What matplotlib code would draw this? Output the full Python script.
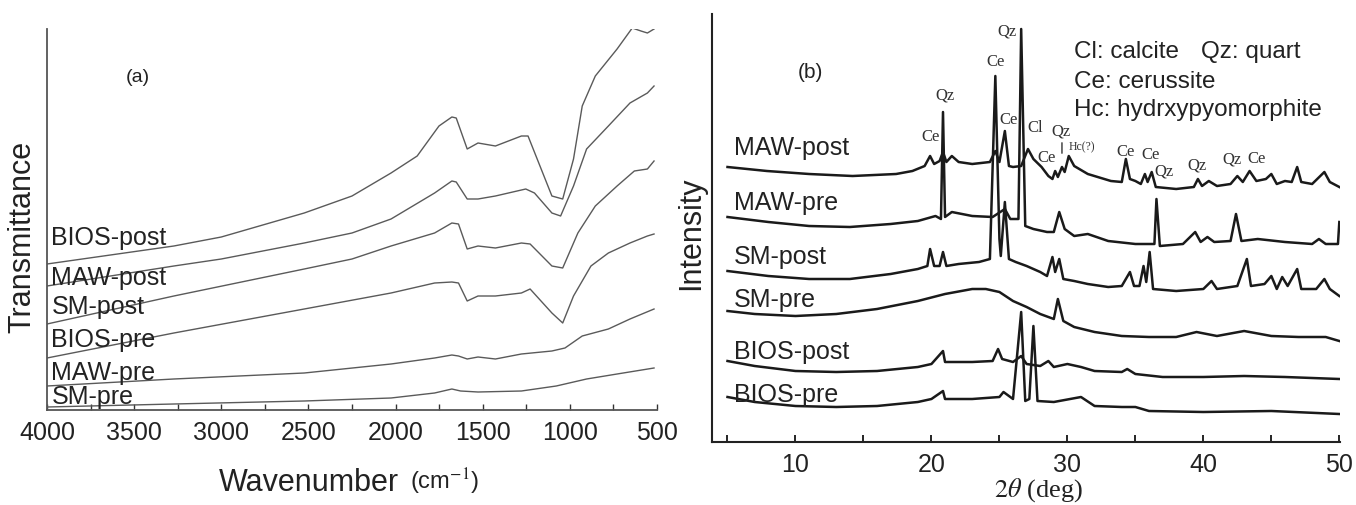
import matplotlib
matplotlib.use('Agg')
import matplotlib.pyplot as plt
from matplotlib.ticker import MultipleLocator

plt.rcParams['font.family'] = ['Liberation Sans', 'DejaVu Sans']
plt.rcParams['mathtext.fontset'] = 'stix'

# ---- (a) FTIR, wavenumber (cm-1) vs offset transmittance (arb. units) ----
bios_post_wn = [4000, 3272, 3000, 2524, 2250, 2026, 1876, 1751, 1677, 1652, 1589, 1527, 1427,
                1278, 1240, 1103, 1041, 979, 929, 854, 729, 642, 592, 555, 517]
bios_post_t = [146, 164, 173, 197, 214, 237, 254, 284, 293, 292, 261, 267, 264,
               274, 274, 214, 211, 251, 304, 334, 361, 382, 379, 377, 381]

maw_post_wn = [4000, 3272, 3000, 2524, 2250, 2026, 1776, 1677, 1652, 1589, 1527, 1427,
               1253, 1203, 1103, 1053, 979, 904, 779, 655, 555, 517]
maw_post_t = [124, 144, 151, 167, 177, 191, 217, 229, 228, 211, 211, 214,
              221, 217, 197, 194, 224, 261, 284, 307, 317, 324]

sm_post_wn = [4000, 3272, 2524, 2250, 2026, 1776, 1677, 1639, 1589, 1527, 1427,
              1278, 1228, 1103, 1041, 954, 854, 729, 630, 555, 517]
sm_post_t = [86, 114, 141, 151, 164, 177, 187, 186, 161, 164, 162,
             167, 166, 144, 142, 177, 204, 224, 239, 241, 249]

bios_pre_wn = [4000, 3272, 2524, 2026, 1776, 1677, 1639, 1589, 1527, 1427,
               1278, 1228, 1103, 1041, 979, 879, 779, 655, 555, 517]
bios_pre_t = [52, 77, 101, 117, 127, 128, 127, 109, 114, 114,
              117, 121, 97, 87, 114, 144, 157, 167, 174, 176]

maw_pre_wn = [4000, 3272, 2524, 2026, 1776, 1677, 1639, 1589, 1527, 1427,
              1278, 1103, 1028, 929, 779, 655, 517]
maw_pre_t = [24, 31, 37, 46, 52, 55, 54, 51, 53, 51,
             56, 59, 62, 74, 81, 91, 101]

sm_pre_wn = [4000, 3272, 2524, 2026, 1776, 1677, 1627, 1527, 1278, 1078, 904, 729, 517]
sm_pre_t = [3, 6, 9, 12, 17, 21, 19, 18, 19, 24, 31, 36, 42]

ftir_labels = ['BIOS-post', 'MAW-post', 'SM-post', 'BIOS-pre', 'MAW-pre', 'SM-pre']
ftir_label_y = [173, 133, 104, 71, 38, 14]

# ---- (b) XRD, 2theta (deg) vs offset intensity (arb. units) ----
maw_post_2t = [5.0, 7.9, 11.0, 14.2, 17.4, 18.6, 19.5, 19.9, 20.2, 20.6, 20.85, 21.1, 21.5, 22.0,
               23.0, 24.3, 24.7, 25.0, 25.4, 25.7, 26.0, 26.6, 27.1, 27.5, 28.1, 28.6, 28.9,
               29.1, 29.3, 29.6, 29.8, 30.1, 30.5, 31.5, 33.2, 34.0, 34.3, 34.6, 35.0, 35.4,
               35.7, 35.9, 36.2, 36.5, 38.0, 39.3, 39.6, 39.9, 40.4, 41.0, 42.0, 42.5, 42.9,
               43.4, 43.9, 44.6, 45.0, 45.4, 46.0, 46.5, 46.9, 47.2, 48.0, 48.9, 49.3, 50.0]
maw_post_i = [275, 271, 268, 266, 268, 271, 276, 286, 278, 281, 290, 280, 286, 280,
              278, 280, 291, 280, 311, 276, 275, 276, 293, 283, 275, 266, 263,
              271, 265, 275, 270, 286, 276, 268, 261, 260, 283, 263, 261, 258,
              268, 260, 270, 255, 253, 255, 263, 256, 261, 256, 258, 266, 260,
              271, 261, 263, 268, 258, 261, 260, 275, 260, 258, 270, 260, 255]

maw_pre_2t = [5.0, 8.0, 11.0, 14.0, 17.0, 19.0, 20.3, 20.7, 20.85, 21.0, 21.5, 23.0, 24.5,
              25.4, 25.8, 26.4, 26.6, 26.9, 27.5, 28.5, 29.0, 29.4, 29.8, 30.5, 31.5, 33.0,
              35.0, 36.4, 36.55, 36.8, 38.5, 39.4, 39.8, 40.3, 40.8, 42.0, 42.4, 42.8, 44.0,
              46.0, 48.0, 48.5, 49.0, 49.9, 50.0]
maw_pre_i = [225, 220, 216, 215, 218, 221, 226, 223, 330, 225, 230, 226, 225,
             233, 223, 223, 413, 216, 213, 210, 210, 230, 213, 206, 208, 201,
             198, 198, 243, 196, 198, 210, 200, 205, 200, 201, 228, 201, 203,
             200, 198, 203, 198, 198, 220]

sm_post_2t = [5.0, 8.0, 11.0, 14.0, 17.0, 19.0, 19.7, 19.9, 20.2, 20.6, 20.85, 21.1, 22.0,
              23.5, 24.3, 24.7, 25.0, 25.1, 25.4, 25.7, 26.2, 27.0, 27.5, 28.0, 28.5, 28.9,
              29.1, 29.4, 29.7, 30.5, 31.5, 33.0, 34.0, 34.6, 34.9, 35.3, 35.6, 35.8, 36.05,
              36.3, 38.0, 40.0, 40.6, 41.0, 42.5, 43.2, 43.5, 44.5, 45.0, 45.4, 45.8, 46.2,
              46.9, 47.2, 48.3, 48.9, 49.3, 50.0]
sm_post_i = [171, 166, 163, 163, 168, 173, 176, 193, 176, 176, 190, 176, 178,
             180, 183, 366, 203, 186, 240, 183, 180, 176, 173, 170, 166, 185,
             170, 183, 163, 161, 158, 155, 156, 170, 156, 156, 176, 160, 190,
             153, 151, 153, 161, 153, 156, 183, 156, 158, 166, 153, 165, 156,
             173, 153, 153, 163, 153, 146]

sm_pre_2t = [5.0, 7.0, 10.0, 13.0, 16.0, 19.0, 21.0, 23.0, 24.0, 25.0, 26.0, 27.0, 28.0,
             29.0, 29.3, 29.7, 30.5, 32.0, 34.0, 36.0, 38.0, 39.5, 41.0, 43.0, 45.0,
             47.0, 49.0, 50.0]
sm_pre_i = [131, 128, 126, 128, 133, 141, 148, 153, 153, 150, 141, 135, 128,
            123, 143, 121, 115, 110, 106, 105, 105, 110, 106, 111, 106,
            105, 105, 101]

bios_post_2t = [5.0, 7.0, 10.0, 13.0, 16.0, 19.0, 20.0, 20.85, 21.0, 23.0, 24.5, 24.9, 25.2,
                26.0, 26.6, 27.0, 28.0, 28.6, 29.0, 30.0, 31.0, 32.0, 34.0, 34.4, 35.0,
                37.0, 40.0, 43.0, 46.0, 50.0]
bios_post_i = [81, 76, 71, 70, 71, 75, 78, 91, 80, 80, 81, 93, 83,
               80, 86, 78, 76, 81, 75, 78, 75, 71, 70, 73, 68,
               65, 65, 66, 65, 63]

bios_pre_2t = [5.0, 7.0, 10.0, 13.0, 16.0, 19.0, 20.0, 20.85, 21.0, 23.0, 25.0, 25.3, 26.0,
               26.6, 26.9, 27.2, 27.5, 27.8, 29.0, 31.0, 32.0, 34.0, 35.0, 36.0, 40.0,
               45.0, 50.0]
bios_pre_i = [45, 40, 36, 35, 36, 40, 43, 51, 43, 43, 45, 50, 43,
              130, 41, 43, 116, 41, 40, 45, 36, 35, 35, 31, 30,
              31, 28]

xrd_labels = ['MAW-post', 'MAW-pre', 'SM-post', 'SM-pre', 'BIOS-post', 'BIOS-pre']
xrd_label_y = [295, 240, 186, 143, 91, 48]

peak_names = ['Qz', 'Ce', 'Qz', 'Ce', 'Ce', 'Cl', 'Qz', 'Ce', 'Hc(?)', 'Ce', 'Ce', 'Qz', 'Qz', 'Qz', 'Ce']
peak_2t = [25.55, 24.74, 21.0, 19.9, 25.7, 27.6, 29.5, 28.5, 31.1, 34.3, 36.1, 37.1, 39.5, 42.1, 43.9]
peak_y = [412, 381, 348, 306, 323, 315, 311, 285, 296, 291, 288, 271, 278, 284, 284]

fig = plt.figure(figsize=(13.56, 5.06), dpi=100)

# ---------------- panel (a) ----------------
ax1 = fig.add_axes([47 / 1356, 95 / 506, 610 / 1356, 381 / 506])
ftir = [(bios_post_wn, bios_post_t), (maw_post_wn, maw_post_t), (sm_post_wn, sm_post_t),
        (bios_pre_wn, bios_pre_t), (maw_pre_wn, maw_pre_t), (sm_pre_wn, sm_pre_t)]
for wn, t in ftir:
    ax1.plot(wn, t, color='#5a5a5a', lw=1.0)
for name, y in zip(ftir_labels, ftir_label_y):
    ax1.text(3975, y, name, fontsize=18, va='center', ha='left', color='#222222')
ax1.text(3480, 334, '(a)', fontsize=14, va='center', ha='center', color='#222222')

ax1.set_xlim(4000, 500)
ax1.set_ylim(0, 381)
ax1.xaxis.set_major_locator(MultipleLocator(500))
ax1.xaxis.set_minor_locator(MultipleLocator(250))
ax1.set_yticks([])
ax1.tick_params(axis='x', which='both', direction='in', length=4, width=1.0,
                labelsize=18, pad=7, colors='#333333', labelcolor='#222222')
for s in ['top', 'right']:
    ax1.spines[s].set_visible(False)
for s in ['left', 'bottom']:
    ax1.spines[s].set_color('#555555')
    ax1.spines[s].set_linewidth(1.3)

fig.text(22 / 1356, 1 - 237 / 506, 'Transmittance', rotation=90, fontsize=22,
         ha='center', va='center', color='#222222')
fig.text(219 / 1356, 1 - 483 / 506, 'Wavenumber', fontsize=22, ha='left', va='center', color='#222222')
fig.text(410 / 1356, 1 - 482 / 506, '(cm$^{-1}$)', fontsize=17, ha='left', va='center', color='#222222')

# ---------------- panel (b) ----------------
ax2 = fig.add_axes([712 / 1356, 63 / 506, 628 / 1356, 428 / 506])
xrd = [(maw_post_2t, maw_post_i), (maw_pre_2t, maw_pre_i), (sm_post_2t, sm_post_i),
       (sm_pre_2t, sm_pre_i), (bios_post_2t, bios_post_i), (bios_pre_2t, bios_pre_i)]
for tt, i in xrd:
    ax2.plot(tt, i, color='#1a1a1a', lw=1.8)
for name, y in zip(xrd_labels, xrd_label_y):
    ax2.text(5.45, y, name, fontsize=18, va='center', ha='left', color='#222222')
for name, x, y in zip(peak_names, peak_2t, peak_y):
    ax2.text(x, y, name, fontsize=8.5 if name.startswith('Hc') else 12, ha='center', va='center',
             family=['Liberation Serif', 'DejaVu Serif'], color='#333333')
ax2.annotate('', xy=(29.6, 286), xytext=(29.6, 302),
             arrowprops=dict(arrowstyle='-', color='#333333', lw=1.0))
ax2.text(11.1, 370, '(b)', fontsize=15, va='center', ha='center', color='#222222')

# legend block for the phase abbreviations
ax2.text(30.5, 391, 'Cl: calcite', fontsize=17.5, va='center', ha='left', color='#222222')
ax2.text(39.8, 391, 'Qz: quart', fontsize=17.5, va='center', ha='left', color='#222222')
ax2.text(30.5, 361, 'Ce: cerussite', fontsize=17.5, va='center', ha='left', color='#222222')
ax2.text(30.5, 333, 'Hc: hydrxypyomorphite', fontsize=17.5, va='center', ha='left', color='#222222')

ax2.set_xlim(3.86, 50.05)
ax2.set_ylim(0, 428)
ax2.xaxis.set_major_locator(MultipleLocator(10))
ax2.xaxis.set_minor_locator(MultipleLocator(5))
ax2.set_yticks([])
ax2.tick_params(axis='x', which='both', direction='in', length=5, width=1.2,
                labelsize=18, pad=7, labelcolor='#222222')
for s in ['top', 'right']:
    ax2.spines[s].set_visible(False)
for s in ['left', 'bottom']:
    ax2.spines[s].set_color('#222222')
    ax2.spines[s].set_linewidth(1.5)

fig.text(691 / 1356, 1 - 233 / 506, 'Intensity', rotation=90, fontsize=22,
         ha='center', va='center', color='#222222')
fig.text(1038 / 1356, 1 - 490 / 506, r'$2\theta$ (deg)', fontsize=19, ha='center', va='center',
         family=['Liberation Serif', 'DejaVu Serif'], color='#222222')

fig.savefig('out.png', dpi=100)
